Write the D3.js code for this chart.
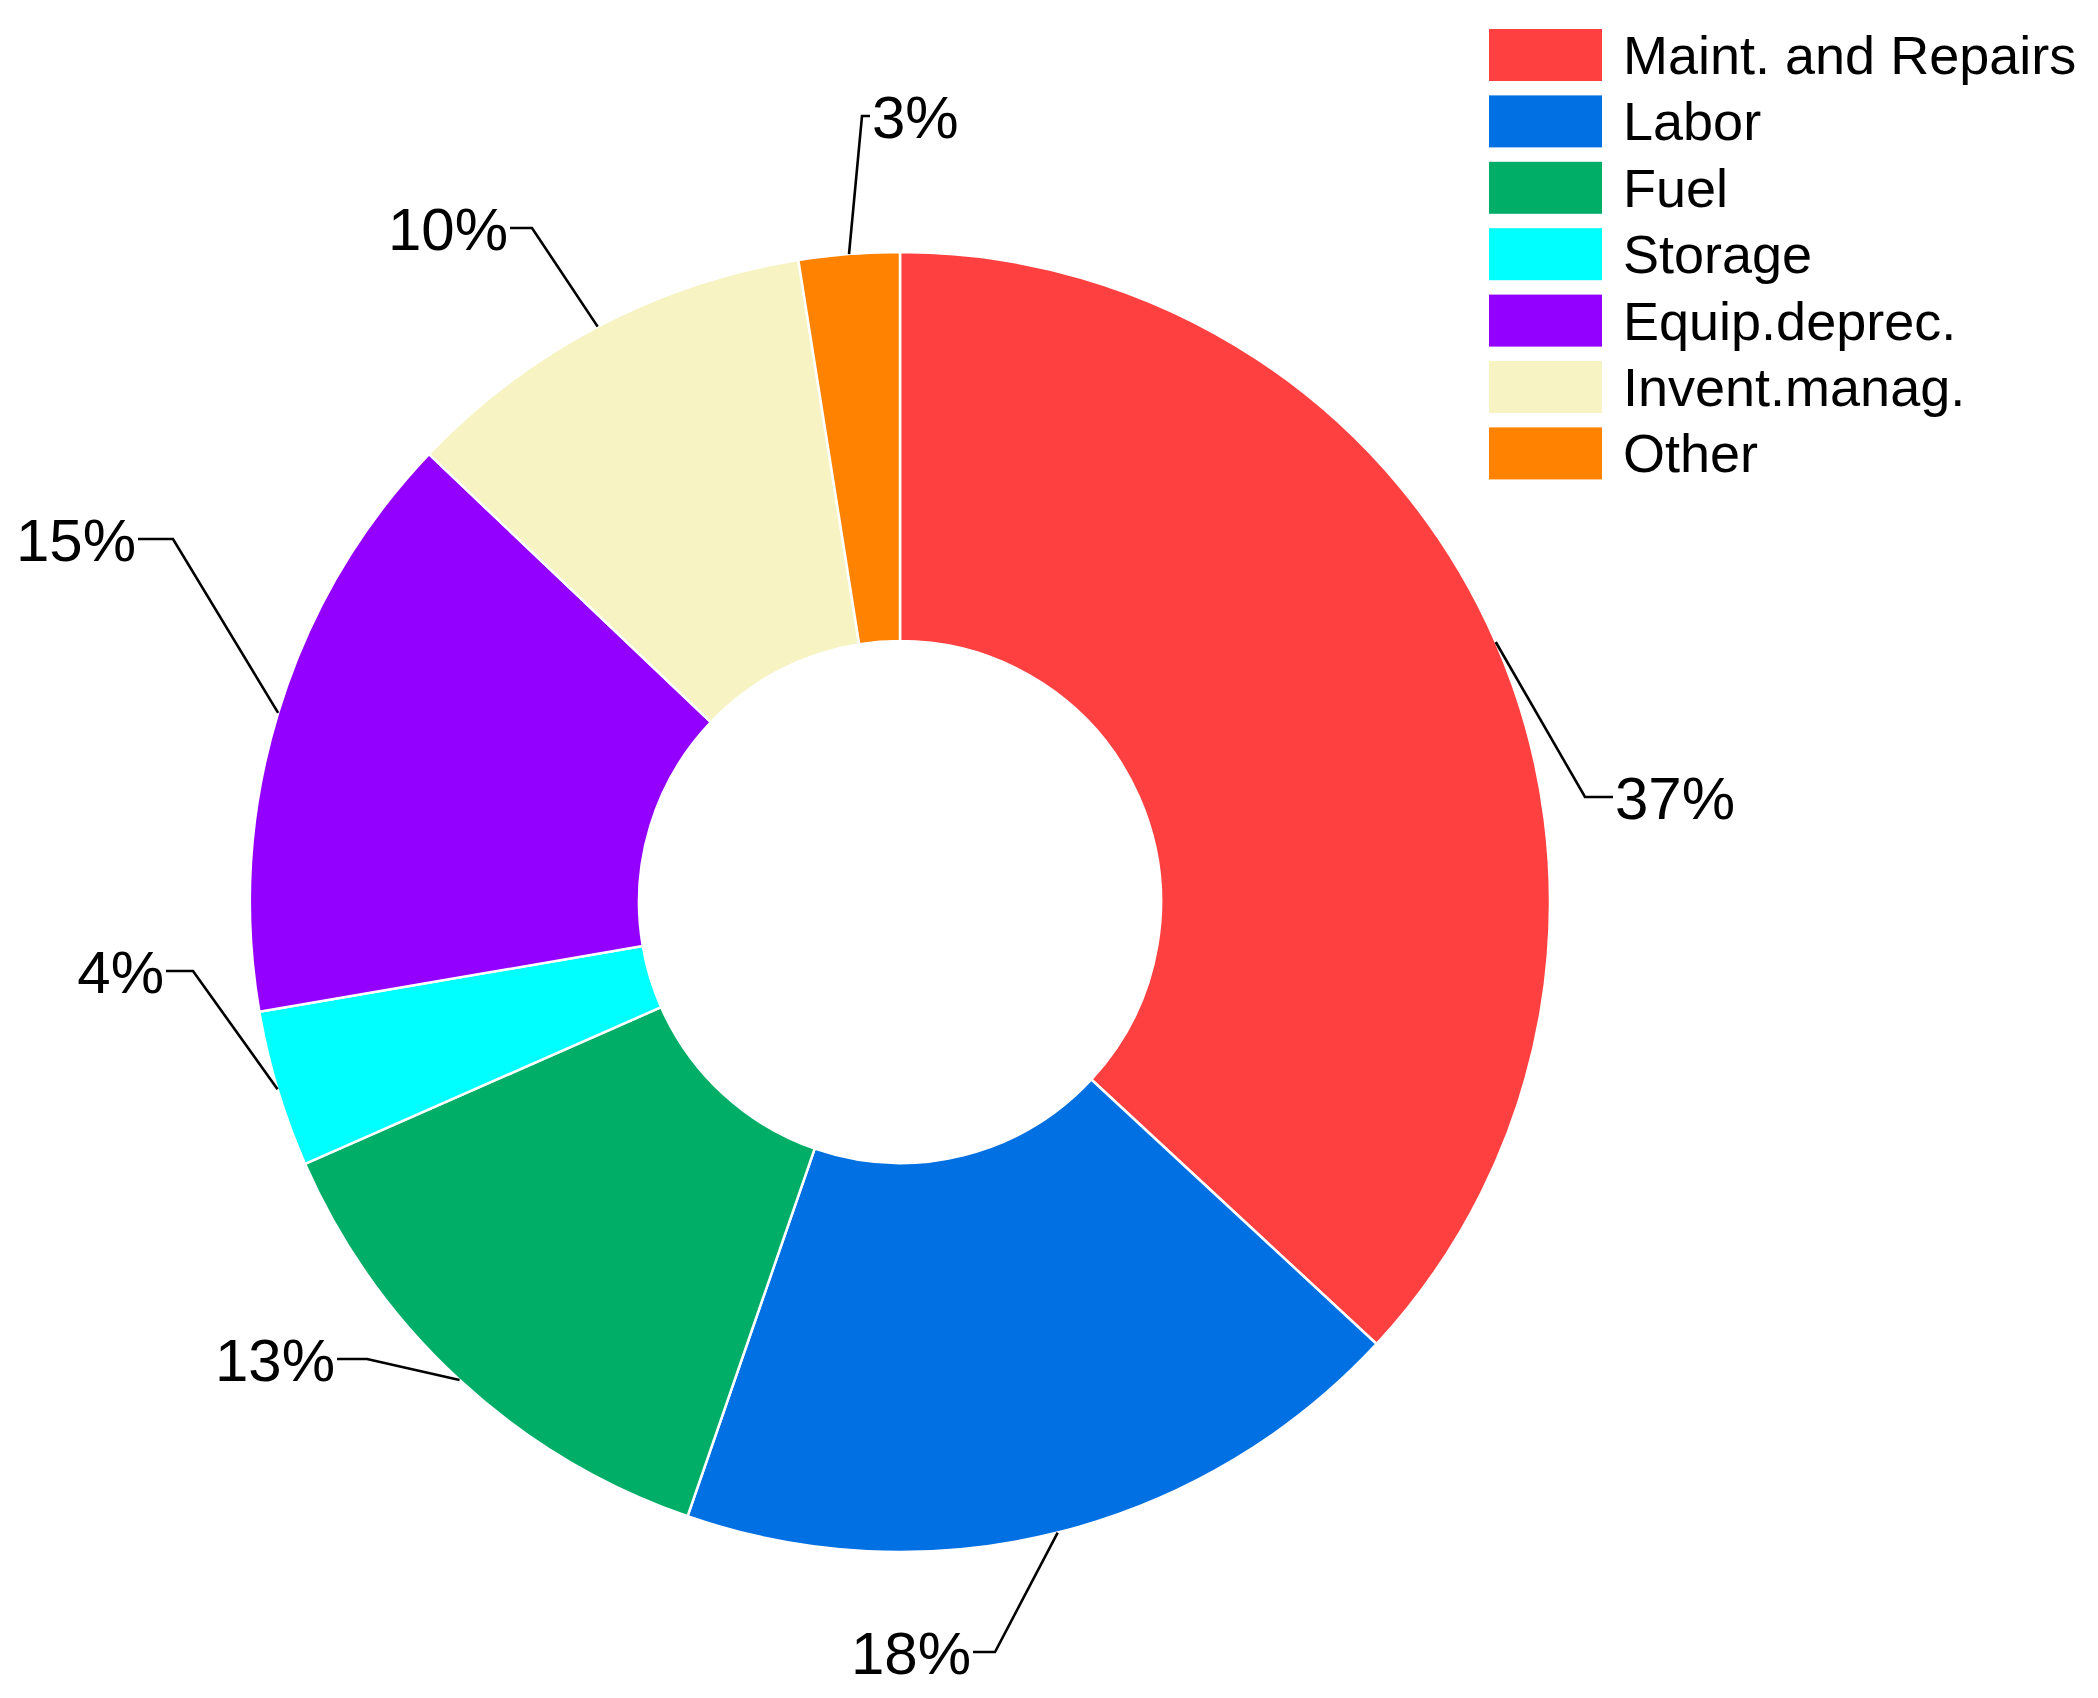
<!DOCTYPE html>
<html>
<head>
<meta charset="utf-8">
<script src="https://cdn.jsdelivr.net/npm/d3@7"></script>
<style>
  html, body { margin: 0; padding: 0; background: #fff; }
  svg { display: block; }
  text { font-family: "Liberation Sans", Arial, sans-serif; fill: #000; }
</style>
</head>
<body>
<svg id="chart" width="2098" height="1698"></svg>
<script>
// ---- data ----
const categories = ["Maint. and Repairs", "Labor", "Fuel", "Storage", "Equip.deprec.", "Invent.manag.", "Other"];
const values = [36.9, 18.4, 13.1, 3.9, 14.8, 10.4, 2.5];
const pctLabels = ["37%", "18%", "13%", "4%", "15%", "10%", "3%"];
const colors = ["#FF4040", "#0070E2", "#00AE68", "#00FFFF", "#9400FF", "#F8F3C3", "#FF8200"];

// ---- label layout (elbow offset from centre, side, horizontal tick length) ----
const labelElbow = [[685, -105], [95, 750], [-533, 457], [-707, 69], [-727, -363], [-368, -674], [-38, -786]];
const labelSide = [1, -1, -1, -1, -1, -1, 1];
const labelTick = [28, 22, 30, 27, 35, 22, 8];

const W = 2098, H = 1698;
const cx = 900, cy = 902, rOuter = 650, rInner = 261;

const svg = d3.select("#chart");
svg.append("rect").attr("width", W).attr("height", H).attr("fill", "#fff");

const data = categories.map((c, i) => ({ name: c, value: values[i], label: pctLabels[i], color: colors[i], idx: i }));

const pie = d3.pie().sort(null).value(d => d.value).startAngle(0).endAngle(2 * Math.PI);
const arc = d3.arc().innerRadius(rInner).outerRadius(rOuter);
const arcs = pie(data);

const g = svg.append("g").attr("transform", `translate(${cx},${cy})`);

g.selectAll("path.slice")
  .data(arcs)
  .join("path")
  .attr("class", "slice")
  .attr("d", arc)
  .attr("fill", d => d.data.color)
  .attr("stroke", "#fff")
  .attr("stroke-width", 2.5)
  .attr("stroke-linejoin", "miter");

// leader lines + labels
const lab = g.append("g");
arcs.forEach((d, i) => {
  const a = (d.startAngle + d.endAngle) / 2;
  const sx = rOuter * Math.sin(a), sy = -rOuter * Math.cos(a);
  const [ex, ey] = labelElbow[i];
  const side = labelSide[i];
  const tx = ex + side * labelTick[i];
  lab.append("path")
    .attr("d", d3.line()([[sx, sy], [ex, ey], [tx, ey]]))
    .attr("fill", "none")
    .attr("stroke", "#000")
    .attr("stroke-width", 2.6)
    .attr("stroke-linejoin", "miter");
  lab.append("text")
    .attr("x", tx + side * 2)
    .attr("y", ey + 21.5)
    .attr("text-anchor", side > 0 ? "start" : "end")
    .attr("font-size", 60)
    .text(d.data.label);
});

// legend
const legX = 1489, legY = 29, legStep = 66.4, swW = 113, swH = 52;
const leg = svg.append("g");
data.forEach((d, i) => {
  const y = legY + i * legStep;
  leg.append("rect")
    .attr("x", legX).attr("y", y)
    .attr("width", swW).attr("height", swH)
    .attr("fill", d.color);
  leg.append("text")
    .attr("x", 1623)
    .attr("y", y + swH / 2 + 19)
    .attr("font-size", 54)
    .text(d.name);
});
</script>
</body>
</html>
